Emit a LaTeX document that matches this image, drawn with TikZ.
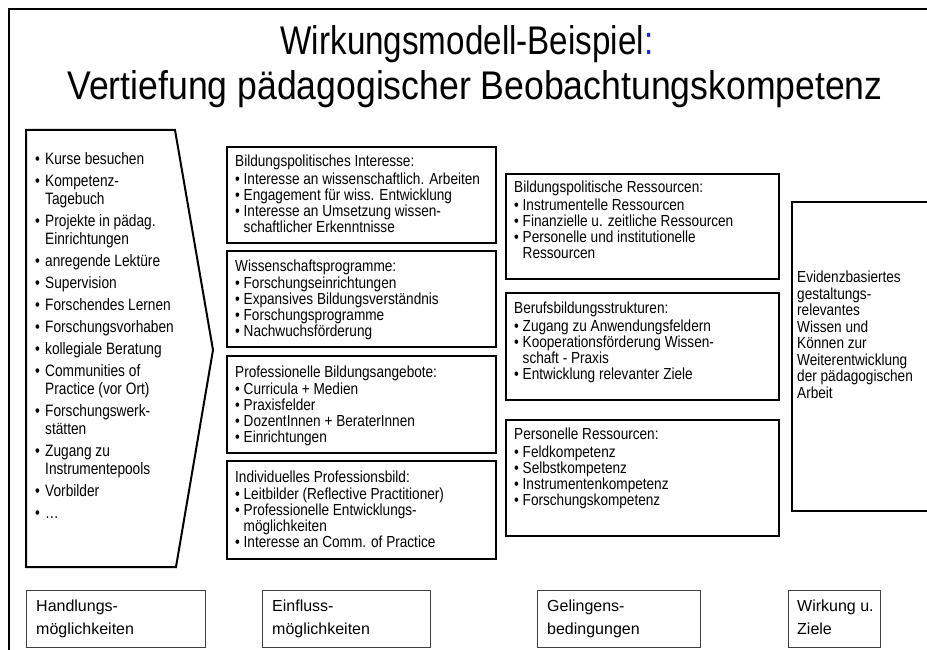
\documentclass[tikz,border=0pt]{standalone}
\usepackage{fontspec}
\setmainfont{Liberation Sans}
\newfontfamily\cnd[FakeStretch=0.85]{Liberation Sans}
\newfontfamily\lcnd[FakeStretch=0.83]{Liberation Sans}
\newfontfamily\ttla[FakeStretch=0.83]{Liberation Sans}
\newfontfamily\ttlb[FakeStretch=0.89]{Liberation Sans}
\newcommand\bl[1]{\makebox[10pt][l]{\textbullet}#1}
\newcommand\cl[1]{\hspace*{10pt}#1}
\newcommand\bs[1]{\makebox[8.5pt][l]{\textbullet}#1}
\newcommand\cs[1]{\hspace*{8.5pt}#1}
\definecolor{colonblue}{RGB}{30,30,230}
\begin{document}
\begin{tikzpicture}[x=1pt,y=-1pt,
  frame/.style={draw,line width=2pt},
  thickbox/.style={draw,line width=2pt,anchor=north west,inner sep=0pt},
  thinbox/.style={draw=black!75,line width=0.9pt,anchor=north west,inner sep=0pt},
  txt/.style={anchor=north west,inner sep=0pt,align=left,font=\cnd\fontsize{16}{16}\selectfont},
  lefttxt/.style={anchor=north west,inner sep=0pt,align=left,font=\lcnd\fontsize{16.5}{18}\selectfont},
  goaltxt/.style={anchor=north west,inner sep=0pt,align=left,font=\cnd\fontsize{16}{16.5}\selectfont},
  labtxt/.style={anchor=north west,inner sep=0pt,align=left,font=\fontsize{16}{23}\selectfont},
  titletxt/.style={anchor=base,inner sep=0pt}]
\clip (0,0) rectangle (927,650);
\fill[white] (0,0) rectangle (927,650);
% outer frame
\coordinate (fa) at (9,670);
\coordinate (fb) at (9,9);
\coordinate (fc) at (950,9);
\draw[frame] (fa) -- (fb) -- (fc);
% title
\node[titletxt,font=\ttla\fontsize{40}{44}\selectfont] (t1) at (467,55) {Wirkungsmodell-Beispiel\textcolor{colonblue}{:}};
\node[titletxt,font=\ttlb\fontsize{40}{44}\selectfont] (t2) at (475,100) {Vertiefung pädagogischer Beobachtungskompetenz};
% left arrow shape
\coordinate (p1) at (26,130);
\coordinate (p2) at (175,130);
\coordinate (p3) at (213,350);
\coordinate (p4) at (176,567);
\coordinate (p5) at (26,567);
\draw[frame,line join=miter] (p1) -- (p2) -- (p3) -- (p4) -- (p5) -- cycle;
\node[lefttxt] (lt) at (35,152) {\bl{Kurse besuchen}\\[4pt]
\bl{Kompetenz-}\\ \cl{Tagebuch}\\[4pt]
\bl{Projekte in pädag.}\\ \cl{Einrichtungen}\\[4pt]
\bl{anregende Lektüre}\\[4pt]
\bl{Supervision}\\[4pt]
\bl{Forschendes Lernen}\\[4pt]
\bl{Forschungsvorhaben}\\[4pt]
\bl{kollegiale Beratung}\\[4pt]
\bl{Communities of}\\ \cl{Practice (vor Ort)}\\[4pt]
\bl{Forschungswerk-}\\ \cl{stätten}\\[4pt]
\bl{Zugang zu}\\ \cl{Instrumentepools}\\[4pt]
\bl{Vorbilder}\\[4pt]
\bl{\dots}};
% column 2
\node[thickbox,minimum width=269pt,minimum height=96pt] (e1) at (226,146) {};
\node[thickbox,minimum width=269pt,minimum height=96pt] (e2) at (226,250) {};
\node[thickbox,minimum width=269pt,minimum height=97pt] (e3) at (226,355) {};
\node[thickbox,minimum width=269pt,minimum height=98pt] (e4) at (226,460) {};
\node[txt] (e1t) at (235,155) {Bildungspolitisches Interesse:\\[2pt]
\bs{Interesse an wissenschaftlich. Arbeiten}\\
\bs{Engagement für wiss. Entwicklung}\\
\bs{Interesse an Umsetzung wissen-}\\
\cs{schaftlicher Erkenntnisse}};
\node[txt] (e2t) at (235,260) {Wissenschaftsprogramme:\\[1pt]
\bs{Forschungseinrichtungen}\\
\bs{Expansives Bildungsverständnis}\\
\bs{Forschungsprogramme}\\
\bs{Nachwuchsförderung}};
\node[txt] (e3t) at (235,366) {Professionelle Bildungsangebote:\\[1pt]
\bs{Curricula + Medien}\\
\bs{Praxisfelder}\\
\bs{DozentInnen + BeraterInnen}\\
\bs{Einrichtungen}};
\node[txt] (e4t) at (235,471) {Individuelles Professionsbild:\\[1pt]
\bs{Leitbilder (Reflective Practitioner)}\\
\bs{Professionelle Entwicklungs-}\\
\cs{möglichkeiten}\\
\bs{Interesse an Comm. of Practice}};
% column 3
\node[thickbox,minimum width=273pt,minimum height=105pt] (g1) at (505,173) {};
\node[thickbox,minimum width=273pt,minimum height=107pt] (g2) at (505,292) {};
\node[thickbox,minimum width=273pt,minimum height=116pt] (g3) at (505,419) {};
\node[txt] (g1t) at (514,181) {Bildungspolitische Ressourcen:\\[2pt]
\bs{Instrumentelle Ressourcen}\\
\bs{Finanzielle u. zeitliche Ressourcen}\\
\bs{Personelle und institutionelle}\\
\cs{Ressourcen}};
\node[txt] (g2t) at (514,302) {Berufsbildungsstrukturen:\\[2pt]
\bs{Zugang zu Anwendungsfeldern}\\
\bs{Kooperationsförderung Wissen-}\\
\cs{schaft - Praxis}\\
\bs{Entwicklung relevanter Ziele}};
\node[txt] (g3t) at (514,428) {Personelle Ressourcen:\\[2pt]
\bs{Feldkompetenz}\\
\bs{Selbstkompetenz}\\
\bs{Instrumentenkompetenz}\\
\bs{Forschungskompetenz}};
% column 4
\node[thickbox,minimum width=160pt,minimum height=309pt] (w1) at (791,201) {};
\node[goaltxt] (w1t) at (797,271) {Evidenzbasiertes\\ gestaltungs-\\ relevantes\\ Wissen und\\ Können zur\\ Weiterentwicklung\\ der pädagogischen\\ Arbeit};
% bottom labels
\node[thinbox,minimum width=179pt,minimum height=57pt] (l1) at (26,590) {};
\node[thinbox,minimum width=168pt,minimum height=57pt] (l2) at (262,590) {};
\node[thinbox,minimum width=163pt,minimum height=57pt] (l3) at (537,590) {};
\node[thinbox,minimum width=92pt,minimum height=57pt] (l4) at (788,590) {};
\node[labtxt] (l1t) at (36,600) {Handlungs-\\möglichkeiten};
\node[labtxt] (l2t) at (272,600) {Einfluss-\\möglichkeiten};
\node[labtxt] (l3t) at (547,600) {Gelingens-\\bedingungen};
\node[labtxt] (l4t) at (797,600) {Wirkung u.\\Ziele};
\end{tikzpicture}
\end{document}
